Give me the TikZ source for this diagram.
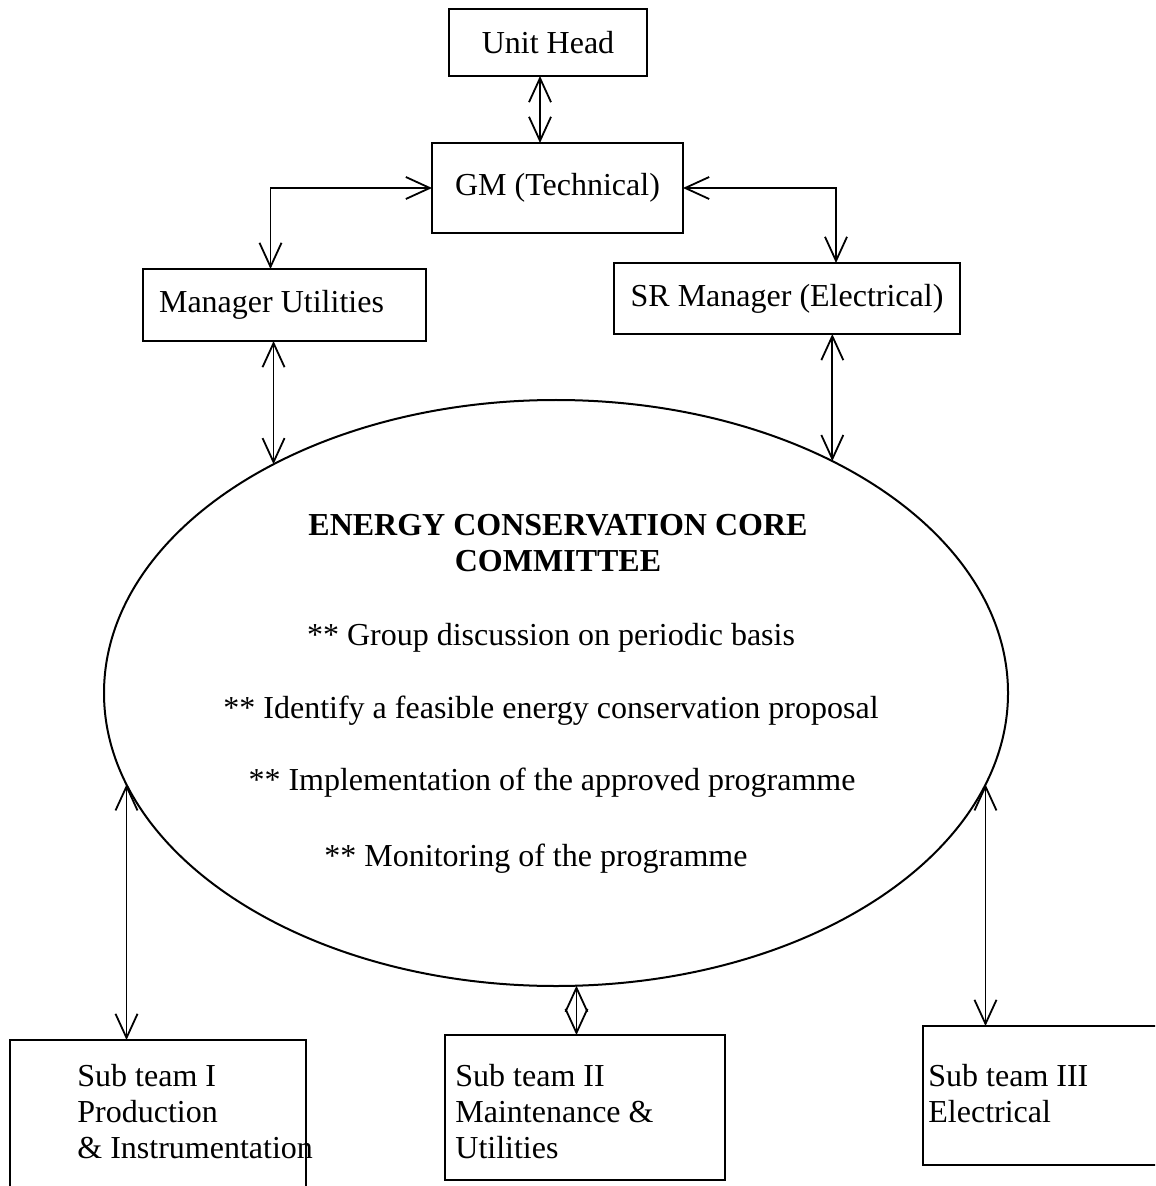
\documentclass[tikz,border=0pt]{standalone}
\usepackage{fontspec}
\setmainfont{Liberation Serif}
\usepackage{tikz}
\usetikzlibrary{arrows.meta}
\usetikzlibrary{positioning, shapes}
\tikzset{
	box/.style = {
		draw,
		rectangle,
		line width=1pt,
		inner sep=0mm,
		outer sep=0mm
	},
	line/.style = {
		line width=0.9pt,
		{Straight Barb[length=12pt, width=11pt, line width=0.9pt]}-{Straight Barb[length=12pt, width=11pt, line width=0.9pt]}
	},
	txt/.style = {
		inner sep=0mm,
		align=left
	}
}

\begin{document}
\begin{tikzpicture}[
		x=0.5pt, y=-0.5pt,
		font=\fontsize{16pt}{18pt}\selectfont,
	]

	% The canvas
	\useasboundingbox (0,0) rectangle (1155,1186);
	\clip (0,0) rectangle (1155,1186);

	% Draw the managers
	\node[box, minimum width=99pt, minimum height=33.5pt] (uh) at (548,42.5) {Unit Head};
	\node[box, minimum width=125.5pt, minimum height=45pt] (gm) at (557.5,188) {GM (Technical)};
	\node[box, minimum width=141.5pt, minimum height=36pt] (mu) at (284.5,305) {Manager Utilities\kern13pt\null};
	\node[box, minimum width=173pt, minimum height=35.5pt] (sr) at (787,298.5) {SR Manager (Electrical)};

	% Draw the committee
	\node[draw, ellipse, line width=1pt, inner sep=0mm, outer sep=0mm,
		minimum width=452pt, minimum height=293pt] (ecc) at (556,693) {};

	\node[txt, align=center, font=\fontsize{16pt}{18pt}\selectfont\bfseries, anchor=base]
		(title) at (558,571) {ENERGY CONSERVATION CORE\\COMMITTEE};
	\node[txt, anchor=base] (p1) at (551,645) {** Group discussion on periodic basis};
	\node[txt, anchor=base] (p2) at (551,718) {** Identify a feasible energy conservation proposal};
	\node[txt, anchor=base] (p3) at (552,790) {** Implementation of the approved programme};
	\node[txt, anchor=base] (p4) at (536,866) {** Monitoring of the programme};

	% Draw the sub teams
	\node[box, minimum width=148pt, minimum height=100pt] (s1) at (158,1140) {};
	\node[box, minimum width=140pt, minimum height=72.5pt] (s2) at (585,1107.5) {};
	\node[box, minimum width=138.5pt, minimum height=69.5pt] (s3) at (1061.5,1095.5) {};

	\node[txt, anchor=base west] (t1) at (77,1158) {Sub team I\\Production\\\& Instrumentation};
	\node[txt, anchor=base west] (t2) at (455,1158) {Sub team II\\Maintenance \&\\Utilities};
	\node[txt, anchor=base west] (t3) at (928,1122) {Sub team III\\Electrical};

	% Connect everything
	\draw[line] (uh.south -| 540,0) -- (gm.north -| 540,0);
	\draw[line] (gm.west) -| ([xshift=-7pt]mu.north);
	\draw[line] (gm.east) -| ([xshift=24.5pt]sr.north);
	\draw[line] (mu.south -| ecc.141) -- (ecc.141);
	\draw[line] (sr.south -| ecc.40) -- (ecc.40);
	\draw[line] (ecc.192) -- (ecc.192 |- s1.north);
	\draw[line] (ecc.274) -- (ecc.274 |- s2.north);
	\draw[line] (ecc.348) -- (ecc.348 |- s3.north);

\end{tikzpicture}
\end{document}
